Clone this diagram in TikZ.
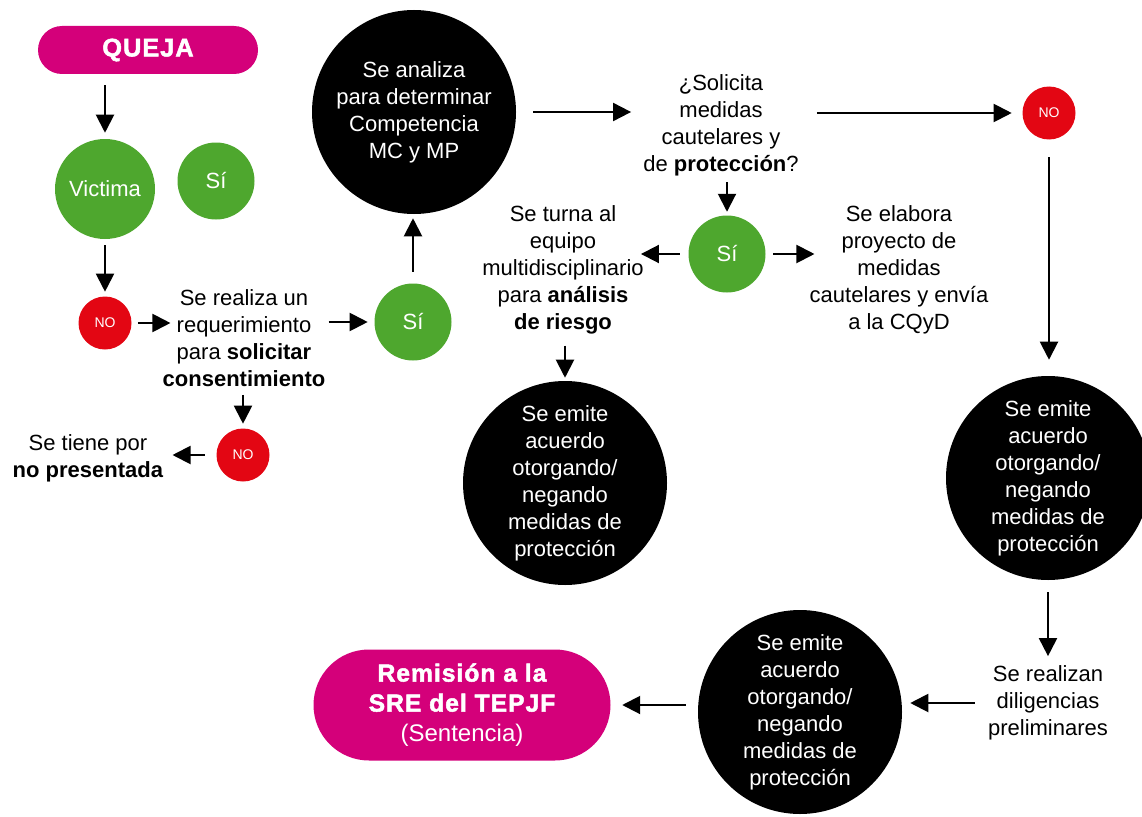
\documentclass[tikz,border=0pt]{standalone}
\usepackage{fontspec}
\setmainfont{Liberation Sans}
\newfontface\grueso{Liberation Sans Bold}[FakeBold=2,LetterSpace=4]
\usetikzlibrary{arrows.meta}
\definecolor{rosa}{HTML}{D4007A}
\definecolor{verde}{HTML}{4EA72E}
\definecolor{rojo}{HTML}{E30613}
\tikzset{
	texto/.style={align=center,inner sep=0pt,font=\fontsize{16.5}{20.25}\selectfont},
	bola/.style={circle,inner sep=0pt,align=center,text=white},
	bolaSi/.style={bola,fill=verde,minimum size=57.75pt,font=\fontsize{16.5}{20.25}\selectfont},
	bolaNo/.style={bola,fill=rojo,minimum size=39.75pt,font=\fontsize{10.5}{12}\selectfont},
	bolaNegra/.style={bola,fill=black,minimum size=153pt,font=\fontsize{16.5}{20.25}\selectfont},
	pastilla/.style={fill=rosa,text=white,align=center,inner sep=0pt},
	flecha/.style={-{Triangle[length=13.5pt,width=13.5pt]},line width=1.5pt}
}
\begin{document}
\begin{tikzpicture}[x=0.75pt,y=-0.75pt]
		\clip (0,0) rectangle (1142,817);
		% left column
		\node[pastilla,minimum width=165pt,minimum height=36pt,rounded corners=18pt,font=\grueso\fontsize{19}{22}\selectfont] (queja) at (148,50) {QUEJA};
		\node[bola,fill=verde,minimum size=75pt,font=\fontsize{16.5}{20.25}\selectfont] (victima) at (105,189) {Victima};
		\node[bolaSi] (si1) at (216,181) {Sí};
		\node[bolaNo] (no1) at (105,323) {NO};
		\node[texto] (req) at (244,338) {Se realiza un\\requerimiento\\para \textbf{solicitar}\\\textbf{consentimiento}};
		\node[bolaSi] (si2) at (413,322) {Sí};
		\node[bolaNo] (no2) at (243,455) {NO};
		\node[texto] (nopres) at (88,458) {Se tiene por\\\textbf{no presentada}};
		% top row
		\node[bolaNegra] (analiza) at (414,112) {Se analiza\\para determinar\\Competencia\\MC y MP};
		\node[texto] (solicita) at (721,125) {¿Solicita\\medidas\\cautelares y\\de \textbf{protección}?};
		\node[bolaNo] (no3) at (1049,113) {NO};
		\node[bolaSi] (si3) at (727,254) {Sí};
		\node[texto] (turna) at (563,270) {Se turna al\\equipo\\multidisciplinario\\para \textbf{análisis}\\\textbf{de riesgo}};
		\node[texto] (elabora) at (899,270) {Se elabora\\proyecto de\\medidas\\cautelares y envía\\a la CQyD};
		\node[bolaNegra] (emite1) at (565,483) {Se emite\\acuerdo\\otorgando/\\negando\\medidas de\\protección};
		% right column and bottom row
		\node[bolaNegra] (emite2) at (1048,478) {Se emite\\acuerdo\\otorgando/\\negando\\medidas de\\protección};
		\node[texto] (diligencias) at (1048,703) {Se realizan\\diligencias\\preliminares};
		\node[bolaNegra] (emite3) at (800,712) {Se emite\\acuerdo\\otorgando/\\negando\\medidas de\\protección};
		\node[pastilla,minimum width=222.75pt,minimum height=83.25pt,rounded corners=41.6pt,font=\fontsize{18}{22.5}\selectfont] (remision) at (462,705) {{\grueso\fontsize{18.5}{22.5}\selectfont Remisión a la}\\{\grueso\fontsize{18.5}{22.5}\selectfont SRE del TEPJF}\\(Sentencia)};
		% arrows, left column
		\draw[flecha,shorten <=8.25pt,shorten >=4.5pt] (victima |- queja.south) -- (victima.north);
		\draw[flecha,shorten <=4.5pt,shorten >=3.4pt] (victima.south) -- (no1.north);
		\draw[flecha,shorten <=4.5pt,shorten >=-6pt] (no1.east) -- (no1 -| req.west);
		\draw[flecha,shorten <=2.25pt,shorten >=4.9pt] (si2 -| req.east) -- (si2.west);
		\draw[flecha,shorten <=8.6pt,shorten >=3pt] (si2.north) -- (si2 |- analiza.south);
		\draw[flecha,shorten <=6pt,shorten >=3.4pt] (no2 |- req.south) -- (no2.north);
		\draw[flecha,shorten <=8.6pt,shorten >=6.75pt] (no2.west) -- (no2 -| nopres.east);
		% arrows, top row
		\draw[flecha,shorten <=12.75pt,shorten >=9pt] (analiza.east) -- (analiza -| solicita.west);
		\draw[flecha,shorten <=13.5pt,shorten >=7.9pt] (no3 -| solicita.east) -- (no3.west);
		\draw[flecha,shorten <=4.5pt,shorten >=2.6pt] (si3 |- solicita.south) -- (si3.north);
		\draw[flecha,shorten <=6.4pt,shorten >=-2.25pt] (si3.west) -- (si3 -| turna.east);
		\draw[flecha,shorten <=5.6pt,shorten >=-3.75pt] (si3.east) -- (si3 -| elabora.west);
		\draw[flecha,shorten <=8.25pt,shorten >=2.25pt] (emite1 |- turna.south) -- (emite1.north);
		% arrows, right column and bottom row
		\draw[flecha,shorten <=13pt,shorten >=12pt] (no3.south) -- (no3 |- emite2.north);
		\draw[flecha,shorten <=9pt,shorten >=7pt] (emite2.south) -- (emite2 |- diligencias.north);
		\draw[flecha,shorten <=9.75pt,shorten >=6pt] (diligencias.west) -- (diligencias -| emite3.east);
		\draw[flecha,shorten <=9pt,shorten >=8.6pt] (remision -| emite3.west) -- (remision.east);
	\end{tikzpicture}
\end{document}
